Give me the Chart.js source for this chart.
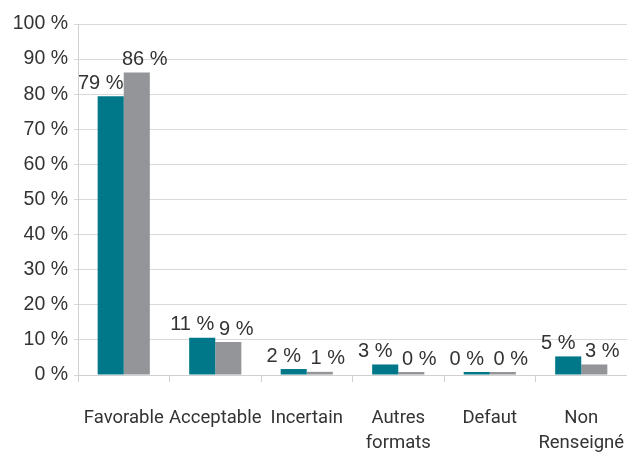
<!DOCTYPE html>
<html>
<head>
<meta charset="utf-8">
<script src="https://cdn.jsdelivr.net/npm/chart.js@4/dist/chart.umd.min.js"></script>
<style>
  html, body { margin: 0; padding: 0; background: #fff; overflow: hidden; }
  #wrap { width: 627px; height: 454px; }
</style>
</head>
<body>
<div id="wrap"><canvas id="chartOne" width="627" height="454"></canvas></div>
<script>
// categories and the two series (values in %)
let categories = ['Favorable', 'Acceptable', 'Incertain', ['Autres', 'formats'], 'Defaut', ['Non', 'Renseigné']];
let seriesOne = [79.4, 10.6, 1.7, 3.0, 0.4, 5.3];
let seriesTwo = [86.2, 9.4, 0.9, 0.4, 0.4, 3.0];
let yTicks = [0, 10, 20, 30, 40, 50, 60, 70, 80, 90, 100];

const fontName = "'Liberation Sans', Arial, sans-serif";
const labelFont = "Roboto, 'Liberation Sans', sans-serif";

// draw "xx %" above each bar, teal labels pushed left, grey ones right
const barLabels = {
    id: 'barLabels',
    afterDatasetsDraw(chart) {
        const ctx = chart.ctx;
        ctx.save();
        ctx.font = '20px ' + fontName;
        ctx.fillStyle = '#333333';
        ctx.textAlign = 'center';
        ctx.textBaseline = 'bottom';
        chart.data.datasets.forEach((ds, i) => {
            let shift = i == 0 ? -10 : 8;
            chart.getDatasetMeta(i).data.forEach((bar, j) => {
                ctx.fillText(Math.round(ds.data[j]) + ' %', bar.x + shift, bar.y - 3);
            });
        });
        ctx.restore();
    }
};

var ctxOne = document.getElementById('chartOne').getContext('2d');
var chartOne = new Chart(ctxOne, {
    type: 'bar',
    data: {
        labels: categories,
        datasets: [{
            label: 'Série 1',
            data: seriesOne,
            backgroundColor: '#00788a',
            barPercentage: 1.0,
            categoryPercentage: 0.57,
            minBarLength: 3
        }, {
            label: 'Série 2',
            data: seriesTwo,
            backgroundColor: '#939598',
            barPercentage: 1.0,
            categoryPercentage: 0.57,
            minBarLength: 3
        }]
    },
    options: {
        responsive: false,
        animation: false,
        layout: { padding: { top: 24, right: 0, left: 5, bottom: 0 } },
        plugins: {
            legend: { display: false },
            tooltip: { enabled: false }
        },
        scales: {
            x: {
                grid: { display: true, drawOnChartArea: false, offset: true, tickLength: 7, color: '#d0d0d0' },
                border: { color: '#d0d0d0' },
                ticks: {
                    color: '#333333',
                    font: { family: labelFont, size: 18.5, lineHeight: 1.35 },
                    padding: 24,
                    maxRotation: 0,
                    autoSkip: false
                },
                afterFit: (scale) => {
                    scale.height = 79;
                    scale.paddingLeft = 0;
                    scale.paddingRight = 0;
                }
            },
            y: {
                min: 0,
                max: 100,
                afterBuildTicks: (axis) => { axis.ticks = yTicks.map(v => ({ value: v })); },
                grid: { color: '#d9d9d9', tickLength: 4 },
                border: { color: '#d0d0d0' },
                ticks: {
                    color: '#333333',
                    font: { family: fontName, size: 19.5 },
                    padding: 6,
                    callback: v => v + ' %'
                },
                afterFit: (scale) => {
                    scale.width = 73;
                    scale.paddingTop = 0;
                    scale.paddingBottom = 0;
                }
            }
        }
    },
    plugins: [barLabels]
});
</script>
</body>
</html>
